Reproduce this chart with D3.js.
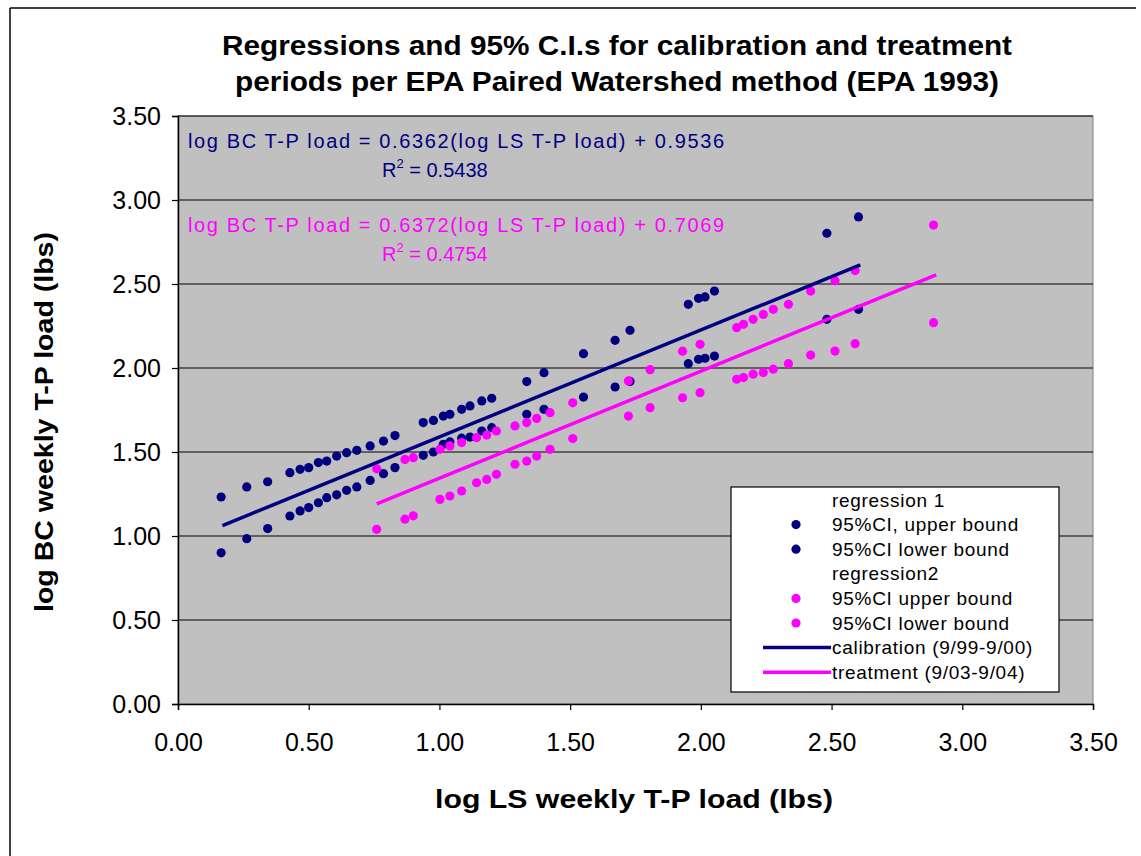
<!DOCTYPE html>
<html>
<head>
<meta charset="utf-8">
<script src="https://cdn.jsdelivr.net/npm/d3@7"></script>
<style>
  body { margin: 0; background: #fff; }
  svg { display: block; font-family: Arial, "Liberation Sans", sans-serif; }
</style>
</head>
<body>
<div id="chart"></div>
<script>
// calibration period (9/99-9/00): 95% CI bounds around regression 1
const calX = [0.165, 0.263, 0.343, 0.428, 0.467, 0.50, 0.537, 0.569, 0.607, 0.645, 0.684, 0.735, 0.786, 0.83,
  0.938, 0.977, 1.015, 1.04, 1.085, 1.117, 1.162, 1.20, 1.334, 1.40, 1.551, 1.672, 1.729,
  1.952, 1.991, 2.016, 2.052, 2.482, 2.603];
const calUpper = [1.232, 1.292, 1.323, 1.377, 1.397, 1.407, 1.437, 1.446, 1.476, 1.496, 1.51, 1.536, 1.565, 1.598,
  1.675, 1.688, 1.714, 1.724, 1.754, 1.774, 1.804, 1.82, 1.919, 1.972, 2.085, 2.165, 2.224,
  2.379, 2.415, 2.423, 2.458, 2.802, 2.899];
const calLower = [0.90, 0.984, 1.044, 1.119, 1.149, 1.169, 1.198, 1.228, 1.245, 1.272, 1.292, 1.331, 1.371, 1.407,
  1.48, 1.50, 1.546, 1.56, 1.582, 1.589, 1.625, 1.645, 1.724, 1.754, 1.827, 1.887, 1.92,
  2.026, 2.052, 2.058, 2.071, 2.29, 2.349];

// treatment period (9/03-9/04): 95% CI bounds around regression 2
const trtX = [0.76, 0.868, 0.90, 1.002, 1.04, 1.085, 1.142, 1.181, 1.218, 1.289, 1.334, 1.372, 1.423, 1.51,
  1.723, 1.806, 1.93, 1.997, 2.137, 2.163, 2.20, 2.239, 2.277, 2.335, 2.42, 2.513, 2.59, 2.89];
const trtUpper = [1.40, 1.456, 1.466, 1.516, 1.536, 1.556, 1.585, 1.601, 1.625, 1.655, 1.675, 1.70, 1.734, 1.793,
  1.923, 1.99, 2.10, 2.141, 2.24, 2.26, 2.29, 2.319, 2.349, 2.379, 2.458, 2.52, 2.58, 2.851];
const trtLower = [1.04, 1.10, 1.12, 1.218, 1.238, 1.268, 1.317, 1.337, 1.367, 1.427, 1.446, 1.476, 1.516, 1.58,
  1.714, 1.764, 1.823, 1.853, 1.933, 1.943, 1.963, 1.973, 1.993, 2.026, 2.077, 2.101, 2.145, 2.27];

// fitted regression lines (end points)
const calFitX = [0.17, 2.61];
const calFitY = [1.062, 2.614];
const trtFitX = [0.76, 2.90];
const trtFitY = [1.191, 2.555];

const axisTicks = [0, 0.5, 1, 1.5, 2, 2.5, 3, 3.5];

const titleLines = ["Regressions and 95% C.I.s for calibration and treatment",
  "periods per EPA Paired Watershed method (EPA 1993)"];
const xTitle = "log LS weekly T-P load (lbs)";
const yTitle = "log BC weekly T-P load (lbs)";
const calEquation = ["log BC T-P load = 0.6362(log LS T-P load) + 0.9536", "0.5438"];
const trtEquation = ["log BC T-P load = 0.6372(log LS T-P load) + 0.7069", "0.4754"];
const legendLabels = ["regression 1", "95%CI, upper bound", "95%CI lower bound", "regression2",
  "95%CI upper bound", "95%CI lower bound", "calibration (9/99-9/00)", "treatment (9/03-9/04)"];

const navy = "#000080";
const magenta = "#ff00ff";

const width = 1141, height = 856;
const plot = { left: 178, right: 1093, top: 116, bottom: 704 };

const svg = d3.select("#chart").append("svg")
    .attr("width", width)
    .attr("height", height);

// chart area frame
svg.append("rect")
    .attr("x", 0).attr("y", 0).attr("width", width).attr("height", height)
    .attr("fill", "#fff");
svg.append("line").attr("x1", 10).attr("x2", 10).attr("y1", 8).attr("y2", height)
    .attr("stroke", "#000").attr("stroke-width", 1.5);
svg.append("line").attr("x1", 10).attr("x2", 1136).attr("y1", 8).attr("y2", 8)
    .attr("stroke", "#000").attr("stroke-width", 1.5);

const x = d3.scaleLinear().domain([0, 3.5]).range([plot.left, plot.right]);
const y = d3.scaleLinear().domain([0, 3.5]).range([plot.bottom, plot.top]);
const fmt = d3.format(".2f");

// plot area
svg.append("rect")
    .attr("x", plot.left).attr("y", plot.top)
    .attr("width", plot.right - plot.left).attr("height", plot.bottom - plot.top)
    .attr("fill", "#c0c0c0")
    .attr("stroke", "#808080");

svg.append("g")
    .selectAll("line")
    .data(axisTicks.filter(d => d > 0))
    .enter().append("line")
    .attr("x1", plot.left).attr("x2", plot.right)
    .attr("y1", d => y(d)).attr("y2", d => y(d))
    .attr("stroke", "#000").attr("stroke-width", 1);

// axes
const yAxis = svg.append("g")
    .attr("transform", `translate(${plot.left},0)`)
    .call(d3.axisLeft(y).tickValues(axisTicks).tickFormat(fmt).tickSize(6).tickPadding(11));
const xAxis = svg.append("g")
    .attr("transform", `translate(0,${plot.bottom})`)
    .call(d3.axisBottom(x).tickValues(axisTicks).tickFormat(fmt).tickSize(6).tickPadding(23));
[xAxis, yAxis].forEach(a => {
  a.select(".domain").attr("stroke", "#000").attr("stroke-width", 1.5);
  a.selectAll(".tick line").attr("stroke", "#000").attr("stroke-width", 1.2);
  a.selectAll("text").attr("fill", "#000").style("font-size", "25px")
      .style("font-family", "Arial, 'Liberation Sans', sans-serif");
});

// markers
function drawPoints(xs, ys, color) {
  svg.append("g")
      .selectAll("circle")
      .data(xs.map((d, i) => [d, ys[i]]))
      .enter().append("circle")
      .attr("cx", d => x(d[0]))
      .attr("cy", d => y(d[1]))
      .attr("r", 4.6)
      .attr("fill", color);
}
drawPoints(calX, calUpper, navy);
drawPoints(calX, calLower, navy);
drawPoints(trtX, trtUpper, magenta);
drawPoints(trtX, trtLower, magenta);

// regression lines
const line = d3.line().x(d => x(d[0])).y(d => y(d[1]));
svg.append("path")
    .datum(calFitX.map((d, i) => [d, calFitY[i]]))
    .attr("d", line)
    .attr("fill", "none").attr("stroke", navy).attr("stroke-width", 3.5);
svg.append("path")
    .datum(trtFitX.map((d, i) => [d, trtFitY[i]]))
    .attr("d", line)
    .attr("fill", "none").attr("stroke", magenta).attr("stroke-width", 3.5);

// equations
function equation(eq, color, y0) {
  svg.append("text")
      .attr("x", 188).attr("y", y0)
      .attr("fill", color)
      .attr("textLength", 536).attr("lengthAdjust", "spacing")
      .style("font-size", "20px")
      .text(eq[0]);
  const r = svg.append("text")
      .attr("x", 382).attr("y", y0 + 29)
      .attr("fill", color)
      .style("font-size", "20px");
  r.append("tspan").text("R");
  r.append("tspan").attr("dy", -9).style("font-size", "13px").text("2");
  r.append("tspan").attr("dy", 9).text(" = " + eq[1]);
}
equation(calEquation, navy, 148);
equation(trtEquation, magenta, 232);

// titles
svg.append("g")
    .selectAll("text")
    .data(titleLines)
    .enter().append("text")
    .attr("x", 617)
    .attr("y", (d, i) => 55 + i * 36)
    .attr("text-anchor", "middle")
    .attr("textLength", (d, i) => i === 0 ? 790 : 764)
    .attr("lengthAdjust", "spacingAndGlyphs")
    .style("font-size", "27px")
    .style("font-weight", "bold")
    .text(d => d);

svg.append("text")
    .attr("x", 634).attr("y", 808)
    .attr("text-anchor", "middle")
    .attr("textLength", 398).attr("lengthAdjust", "spacingAndGlyphs")
    .style("font-size", "26px").style("font-weight", "bold")
    .text(xTitle);

svg.append("text")
    .attr("transform", "translate(53,422) rotate(-90)")
    .attr("text-anchor", "middle")
    .attr("textLength", 380).attr("lengthAdjust", "spacingAndGlyphs")
    .style("font-size", "26px").style("font-weight", "bold")
    .text(yTitle);

// legend
const legend = svg.append("g");
legend.append("rect")
    .attr("x", 731).attr("y", 487).attr("width", 328).attr("height", 205)
    .attr("fill", "#fff").attr("stroke", "#000").attr("stroke-width", 1.2);

const legendSymbols = [null, ["dot", navy], ["dot", navy], null, ["dot", magenta], ["dot", magenta],
  ["line", navy], ["line", magenta]];
const rowY = i => 500 + i * 24.6;

legend.selectAll("text")
    .data(legendLabels)
    .enter().append("text")
    .attr("x", 832)
    .attr("y", (d, i) => rowY(i))
    .attr("dy", "0.35em")
    .style("font-size", "19px")
    .style("letter-spacing", "0.7px")
    .text(d => d);

legendSymbols.forEach((s, i) => {
  if (!s) return;
  if (s[0] === "dot") {
    legend.append("circle").attr("cx", 796).attr("cy", rowY(i)).attr("r", 4.6).attr("fill", s[1]);
  } else {
    legend.append("line").attr("x1", 763).attr("x2", 831)
        .attr("y1", rowY(i)).attr("y2", rowY(i))
        .attr("stroke", s[1]).attr("stroke-width", 3.5);
  }
});
</script>
</body>
</html>
